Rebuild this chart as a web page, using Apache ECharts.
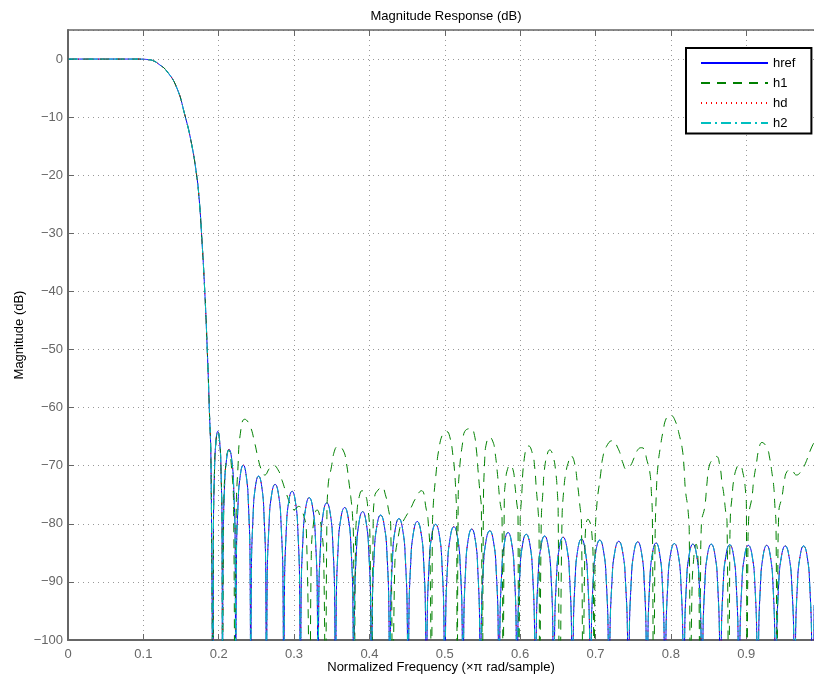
<!DOCTYPE html>
<html>
<head>
<meta charset="utf-8">
<title>Magnitude Response (dB)</title>
<script src="https://cdn.jsdelivr.net/npm/echarts@6/dist/echarts.min.js"></script>
<style>
  html, body { margin: 0; padding: 0; background: #fff; }
  #chart { width: 814px; height: 680px; }
</style>
</head>
<body>
<div id="chart"></div>
<script>
// Filter names, in legend order
const seriesNames = ['href', 'h1', 'hd', 'h2'];

// Axis ticks and their labels
const freqTicks = [0, 0.1, 0.2, 0.3, 0.4, 0.5, 0.6, 0.7, 0.8, 0.9];
const freqTickLabels = ['0', '0.1', '0.2', '0.3', '0.4', '0.5', '0.6', '0.7', '0.8', '0.9'];
const magTicks = [-100, -90, -80, -70, -60, -50, -40, -30, -20, -10, 0];
const magTickLabels = ['\u2212100', '\u221290', '\u221280', '\u221270', '\u221260', '\u221250',
                       '\u221240', '\u221230', '\u221220', '\u221210', '0'];

// Passband and transition band, [normalized frequency, dB] (common to all filters)
const passband = [
  [0, 0], [0.05, 0], [0.09, 0], [0.1, -0.03], [0.106, -0.1], [0.1124, -0.25],
  [0.1217, -1.0], [0.1306, -2.0], [0.1439, -4.8], [0.155, -9.6], [0.1638, -14.5],
  [0.1704, -19.7], [0.174, -24.0], [0.1772, -30], [0.1815, -40], [0.1848, -50],
  [0.1875, -60], [0.1898, -70], [0.1925, -120]
];

// Reference filter stopband lobes (each lobe ends on its null)
const hrefStopLow = [
  [0.193,-82.1],[0.1944,-71.0],[0.1963,-65.9],[0.1988,-64.1],[0.2013,-65.9],[0.2031,-71.0],[0.2045,-82.1],[0.205,-120],
  [0.2057,-85.2],[0.2076,-74.1],[0.2103,-69.0],[0.2138,-67.2],[0.2173,-69.0],[0.22,-74.1],[0.2219,-85.2],[0.2226,-120],
  [0.2234,-87.9],[0.2256,-76.8],[0.2286,-71.7],[0.2326,-69.9],[0.2365,-71.7],[0.2395,-76.8],[0.2417,-87.9],[0.2425,-120],
  [0.2433,-89.8],[0.2456,-78.7],[0.2487,-73.6],[0.2529,-71.8],[0.2571,-73.6],[0.2602,-78.7],[0.2625,-89.8],[0.2633,-120],
  [0.2642,-91.2],[0.2668,-80.1],[0.2702,-75.0],[0.2748,-73.2],[0.2794,-75.0],[0.2828,-80.1],[0.2854,-91.2],[0.2863,-120],
  [0.2872,-92.4],[0.2896,-81.3],[0.2929,-76.2],[0.2974,-74.4],[0.3018,-76.2],[0.3051,-81.3],[0.3075,-92.4],[0.3084,-120],
  [0.3093,-93.5],[0.3119,-82.4],[0.3154,-77.3],[0.3201,-75.5],[0.3248,-77.3],[0.3283,-82.4],[0.3309,-93.5],[0.3318,-120],
  [0.3327,-94.4],[0.3353,-83.3],[0.3387,-78.2],[0.3434,-76.4],[0.348,-78.2],[0.3514,-83.3],[0.354,-94.4],[0.3549,-120],
  [0.3559,-95.2],[0.3585,-84.1],[0.3622,-79.0],[0.3671,-77.2],[0.3719,-79.0],[0.3756,-84.1],[0.3782,-95.2],[0.3792,-120],
  [0.3801,-95.9],[0.3827,-84.8],[0.3863,-79.7],[0.391,-77.9],[0.3956,-79.7],[0.3992,-84.8],[0.4018,-95.9],[0.4027,-120],
  [0.4037,-96.5],[0.4063,-85.4],[0.41,-80.3],[0.4149,-78.5],[0.4197,-80.3],[0.4234,-85.4],[0.426,-96.5],[0.427,-120]
];
const hrefStopMid = [
  [0.428,-97.1],[0.4306,-86.0],[0.4343,-80.9],[0.4392,-79.1],[0.444,-80.9],[0.4477,-86.0],[0.4503,-97.1],[0.4513,-120],
  [0.4523,-97.6],[0.4549,-86.5],[0.4586,-81.4],[0.4635,-79.6],[0.4683,-81.4],[0.472,-86.5],[0.4746,-97.6],[0.4756,-120],
  [0.4766,-98.1],[0.4793,-87.0],[0.4829,-81.9],[0.4878,-80.1],[0.4927,-81.9],[0.4963,-87.0],[0.499,-98.1],[0.5,-120],
  [0.501,-98.5],[0.5036,-87.4],[0.5073,-82.3],[0.5121,-80.5],[0.5169,-82.3],[0.5206,-87.4],[0.5232,-98.5],[0.5242,-120],
  [0.5251,-98.9],[0.5277,-87.8],[0.5311,-82.7],[0.5358,-80.9],[0.5404,-82.7],[0.5438,-87.8],[0.5464,-98.9],[0.5473,-120],
  [0.5483,-99.2],[0.551,-88.1],[0.5547,-83.0],[0.5597,-81.2],[0.5646,-83.0],[0.5683,-88.1],[0.571,-99.2],[0.572,-120],
  [0.573,-99.5],[0.5756,-88.4],[0.5792,-83.3],[0.584,-81.5],[0.5887,-83.3],[0.5923,-88.4],[0.5949,-99.5],[0.5959,-120],
  [0.5969,-99.8],[0.5996,-88.7],[0.6032,-83.6],[0.6081,-81.8],[0.613,-83.6],[0.6166,-88.7],[0.6193,-99.8],[0.6203,-120],
  [0.6213,-100.1],[0.6239,-89.0],[0.6276,-83.9],[0.6325,-82.1],[0.6373,-83.9],[0.641,-89.0],[0.6436,-100.1],[0.6446,-120],
  [0.6456,-100.3],[0.6483,-89.2],[0.652,-84.1],[0.657,-82.3],[0.662,-84.1],[0.6657,-89.2],[0.6684,-100.3],[0.6694,-120],
  [0.6704,-100.6],[0.673,-89.5],[0.6766,-84.4],[0.6814,-82.6],[0.6861,-84.4],[0.6897,-89.5],[0.6923,-100.6],[0.6933,-120],
  [0.6943,-100.8],[0.697,-89.7],[0.7007,-84.6],[0.7057,-82.8],[0.7106,-84.6],[0.7143,-89.7],[0.717,-100.8],[0.718,-120]
];
const hrefStopHigh = [
  [0.719,-101.0],[0.7219,-89.9],[0.7257,-84.8],[0.7309,-83.0],[0.736,-84.8],[0.7398,-89.9],[0.7427,-101.0],[0.7437,-120],
  [0.7447,-101.1],[0.7474,-90.0],[0.7511,-84.9],[0.7561,-83.1],[0.761,-84.9],[0.7647,-90.0],[0.7674,-101.1],[0.7684,-120],
  [0.7694,-101.3],[0.772,-90.2],[0.7756,-85.1],[0.7804,-83.3],[0.7851,-85.1],[0.7887,-90.2],[0.7913,-101.3],[0.7923,-120],
  [0.7933,-101.4],[0.796,-90.3],[0.7997,-85.2],[0.8047,-83.4],[0.8097,-85.2],[0.8134,-90.3],[0.8161,-101.4],[0.8171,-120],
  [0.8181,-101.5],[0.8207,-90.4],[0.8244,-85.3],[0.8293,-83.5],[0.8341,-85.3],[0.8378,-90.4],[0.8404,-101.5],[0.8414,-120],
  [0.8424,-101.5],[0.8451,-90.4],[0.8487,-85.3],[0.8536,-83.5],[0.8585,-85.3],[0.8621,-90.4],[0.8648,-101.5],[0.8658,-120],
  [0.8668,-101.6],[0.8695,-90.5],[0.8732,-85.4],[0.8782,-83.6],[0.8831,-85.4],[0.8868,-90.5],[0.8895,-101.6],[0.8905,-120],
  [0.8915,-101.7],[0.8942,-90.6],[0.8979,-85.5],[0.9029,-83.7],[0.9079,-85.5],[0.9116,-90.6],[0.9143,-101.7],[0.9153,-120],
  [0.9163,-101.7],[0.9189,-90.6],[0.9225,-85.5],[0.9273,-83.7],[0.932,-85.5],[0.9356,-90.6],[0.9382,-101.7],[0.9392,-120],
  [0.9402,-101.8],[0.943,-90.7],[0.9468,-85.6],[0.9518,-83.8],[0.9568,-85.6],[0.9606,-90.7],[0.9634,-101.8],[0.9644,-120],
  [0.9653,-101.8],[0.9679,-90.7],[0.9715,-85.6],[0.9762,-83.8],[0.9809,-85.6],[0.9844,-90.7],[0.987,-101.8],[0.9879,-120],
  [0.9902,-94]
];

// Quantized filter h1 stopband
const h1StopLow = [
  [0.193,-82.1],[0.1944,-71.0],[0.1963,-65.9],[0.1988,-64.1],[0.2013,-65.9],[0.2031,-71.0],[0.2045,-82.1],[0.205,-120],
  [0.2067,-77],[0.21,-69],[0.2132,-67.3],[0.2165,-69.5],[0.2198,-77.5],[0.2215,-118],
  [0.2232,-78],[0.2256,-70.2],[0.2288,-64.4],[0.2345,-62.0],[0.2411,-63.0],[0.2478,-66.1],
  [0.2522,-68.7],[0.2566,-70.7],[0.261,-71.6],[0.2677,-70.4],[0.2721,-69.9],[0.2787,-70.7],
  [0.284,-72.5],[0.2898,-74.8],[0.2965,-77.1],[0.3,-77.6],[0.306,-77.0],[0.311,-77.8],
  [0.3164,-81.6],[0.3208,-118],
  [0.3228,-86],[0.3262,-79.5],[0.3305,-77.6],[0.335,-79.5],[0.3395,-87],[0.3416,-118],
  [0.3435,-80],[0.3451,-73.6],[0.3496,-70.2],[0.354,-67.3],[0.3583,-66.7],[0.365,-67.3],
  [0.3695,-69.6],[0.3725,-72.5],[0.3752,-75.3],[0.3774,-78.2],[0.379,-84],[0.38,-118],
  [0.3815,-84],[0.3835,-78],[0.3871,-75],[0.3902,-74.3],[0.3938,-74.8],[0.3973,-76.5],
  [0.4008,-83],[0.403,-118],
  [0.405,-80],[0.407,-75.3],[0.4114,-74.2],[0.4167,-73.7],[0.4212,-75.0],[0.4247,-77.1],
  [0.4283,-80.5],[0.431,-118]
];
const h1StopMid = [
  [0.4335,-88],[0.4402,-80.8],[0.4446,-79.6],[0.4557,-77.1],[0.4601,-75.9],[0.469,-74.3],
  [0.4756,-77.6],[0.4778,-79.3],[0.4805,-86],[0.4823,-118],
  [0.4835,-82],[0.4844,-77.6],[0.4889,-70.7],[0.492,-67.3],[0.4977,-64.4],[0.5022,-64.1],
  [0.5066,-65.0],[0.511,-68.4],[0.5132,-71.3],[0.5145,-74.2],[0.5158,-79],[0.5165,-118],
  [0.5178,-76],[0.5199,-70.2],[0.5242,-65.6],[0.5265,-64.1],[0.5354,-63.6],[0.5388,-64.4],
  [0.542,-67.3],[0.5441,-70.7],[0.5464,-74.2],[0.5486,-77.6],[0.55,-118],
  [0.5512,-78],[0.553,-69],[0.5553,-66.1],[0.5597,-65.1],[0.564,-65.9],[0.5663,-67.3],
  [0.57,-71.5],[0.573,-75.9],[0.576,-79],[0.5775,-118],
  [0.579,-76],[0.5812,-72],[0.5831,-70.7],[0.5862,-69.9],[0.5906,-70.7],[0.5928,-73.0],
  [0.5951,-75.9],[0.5972,-78.8],[0.598,-118],
  [0.6,-80],[0.6017,-75.9],[0.6061,-68.2],[0.6114,-66.6],[0.6165,-68],[0.6193,-70.2],
  [0.6216,-74.2],[0.6238,-77.6],[0.6251,-81.1],[0.626,-118],
  [0.628,-80],[0.6304,-74.2],[0.6327,-70.2],[0.637,-67.6],[0.6393,-67.3],[0.6437,-68.4],
  [0.6472,-71.0],[0.6495,-74.8],[0.6505,-78.2],[0.6526,-118],
  [0.6555,-80],[0.6583,-73.6],[0.6614,-70.7],[0.6636,-69.6],[0.6675,-68.3],[0.6716,-69.2],
  [0.676,-73.0],[0.679,-76.5],[0.6814,-79.9],[0.6835,-118],
  [0.686,-84],[0.6901,-79.2],[0.6946,-80.8],[0.697,-88],[0.6981,-118]
];
const h1StopHigh = [
  [0.6995,-84],[0.7013,-77.6],[0.707,-71.3],[0.71,-68.4],[0.7145,-66.7],[0.722,-65.7],
  [0.7299,-67.0],[0.7366,-69.6],[0.741,-70.6],[0.7455,-70.2],[0.7521,-68.4],[0.7565,-67.2],
  [0.761,-66.9],[0.7654,-67.3],[0.7676,-68.7],[0.772,-71.0],[0.7743,-74.8],[0.7755,-79],
  [0.7773,-118],
  [0.779,-84],[0.7809,-74.2],[0.783,-69.9],[0.7862,-66.7],[0.7897,-64.1],[0.7941,-61.8],
  [0.7994,-61.3],[0.8052,-62.1],[0.8118,-65.0],[0.8154,-67.3],[0.8175,-70.2],[0.8194,-74.2],
  [0.8228,-77.6],[0.8245,-82],[0.826,-118],
  [0.828,-92],[0.831,-85],[0.8335,-83.5],[0.836,-86],[0.8375,-93],[0.8384,-118],
  [0.8395,-88],[0.8406,-79.9],[0.845,-77.1],[0.848,-73.0],[0.8507,-70.2],[0.856,-68.8],
  [0.8605,-68.4],[0.865,-70.0],[0.868,-73.0],[0.8702,-74.8],[0.8725,-77.6],[0.8746,-79.9],
  [0.8769,-118],
  [0.8782,-86],[0.879,-78.8],[0.8813,-75.3],[0.8835,-72.5],[0.8879,-70.2],[0.8914,-69.9],
  [0.8958,-71.3],[0.899,-74.2],[0.9003,-77.6],[0.9011,-118],
  [0.9022,-86],[0.9034,-78.8],[0.9078,-75.3],[0.91,-72.5],[0.9136,-69.6],[0.9166,-67.3],
  [0.921,-66.0],[0.9277,-67.0],[0.9312,-68.7],[0.9343,-71.3],[0.9366,-73.6],[0.9379,-76.5],
  [0.9396,-80.5],[0.941,-118],
  [0.942,-88],[0.9433,-78],[0.9476,-75.3],[0.9508,-72.5],[0.9542,-71.0],[0.9595,-70.7],
  [0.9667,-71.6],[0.9741,-70.7],[0.9786,-69.6],[0.9853,-67.3],[0.99,-66.0]
];

const hrefData = passband.concat(hrefStopLow, hrefStopMid, hrefStopHigh);
const h1Data = passband.concat(h1StopLow, h1StopMid, h1StopHigh);
// hd and h2 coincide with the reference response
const hdData = hrefData;
const h2Data = hrefData;

const FONT = '"Liberation Sans", Arial, Helvetica, sans-serif';
const AXIS_GREY = '#666666';

function labelFor(ticks, labels) {
  return function (v) {
    for (let i = 0; i < ticks.length; i++) {
      if (Math.abs(ticks[i] - v) < 1e-6) return labels[i];
    }
    return '';
  };
}

function lineSeries(name, data, color, type) {
  return {
    name: name,
    type: 'line',
    data: data,
    symbol: 'none',
    smooth: 0.5,
    clip: true,
    silent: true,
    itemStyle: { color: color },
    lineStyle: { color: color, width: 1, type: type }
  };
}

const chart = echarts.init(document.getElementById('chart'), null, { renderer: 'canvas' });

chart.setOption({
  animation: false,
  backgroundColor: '#ffffff',
  textStyle: { fontFamily: FONT },
  title: {
    text: 'Magnitude Response (dB)',
    left: 441,
    top: 5,
    textAlign: 'center',
    textStyle: { fontSize: 13, fontWeight: 'normal', color: '#000', fontFamily: FONT }
  },
  legend: {
    data: seriesNames,
    orient: 'vertical',
    left: 686,
    top: 48,
    itemWidth: 67,
    itemHeight: 14,
    itemGap: 7,
    padding: [8.5, 16, 4, 14],
    backgroundColor: '#ffffff',
    borderColor: '#000000',
    borderWidth: 2,
    borderRadius: 0,
    selectedMode: false,
    itemStyle: { opacity: 0, borderWidth: 0 },
    textStyle: { color: '#000', fontSize: 13, fontFamily: FONT, width: 30 }
  },
  grid: { left: 68, right: 0, top: 30, bottom: 40, containLabel: false, outerBoundsMode: 'none' },
  xAxis: [
    {
      type: 'value',
      min: 0,
      max: 0.99,
      interval: 0.1,
      position: 'bottom',
      name: 'Normalized Frequency (\u00d7\u03c0 rad/sample)',
      nameLocation: 'middle',
      nameGap: 21,
      nameMoveOverlap: false,
      nameTextStyle: { color: '#000', fontSize: 13, fontFamily: FONT },
      axisLine: { onZero: false, lineStyle: { color: AXIS_GREY, width: 2 } },
      axisTick: { inside: true, length: 6, lineStyle: { color: AXIS_GREY, width: 1 } },
      axisLabel: {
        color: AXIS_GREY, fontSize: 13, margin: 8, showMaxLabel: false,
        fontFamily: FONT, formatter: labelFor(freqTicks, freqTickLabels)
      },
      splitLine: { show: true, lineStyle: { color: '#999999', width: 1, type: [1, 4] } }
    },
    {
      type: 'value',
      min: 0,
      max: 0.99,
      interval: 0.1,
      position: 'top',
      axisLine: { onZero: false, lineStyle: { color: AXIS_GREY, width: 1.5 } },
      axisTick: { inside: true, length: 6, lineStyle: { color: AXIS_GREY, width: 1 } },
      axisLabel: { show: false },
      splitLine: { show: false }
    }
  ],
  yAxis: {
    type: 'value',
    min: -100,
    max: 5,
    interval: 10,
    name: 'Magnitude (dB)',
    nameLocation: 'middle',
    nameGap: 42,
    nameMoveOverlap: false,
    nameTextStyle: { color: '#000', fontSize: 13, fontFamily: FONT },
    axisLine: { onZero: false, lineStyle: { color: AXIS_GREY, width: 2 } },
    axisTick: { inside: true, length: 6, lineStyle: { color: AXIS_GREY, width: 1 } },
    axisLabel: {
      color: AXIS_GREY, fontSize: 13, margin: 5, showMaxLabel: false,
      fontFamily: FONT, formatter: labelFor(magTicks, magTickLabels)
    },
    splitLine: { show: true, lineStyle: { color: '#999999', width: 1, type: [1, 4] } }
  },
  series: [
    lineSeries('href', hrefData, '#0000ff', 'solid'),
    lineSeries('h1', h1Data, '#008000', [9, 7]),
    lineSeries('hd', hdData, '#ff0000', [1, 4]),
    lineSeries('h2', h2Data, '#00bfbf', [10, 4, 2, 4])
  ]
});
</script>
</body>
</html>
